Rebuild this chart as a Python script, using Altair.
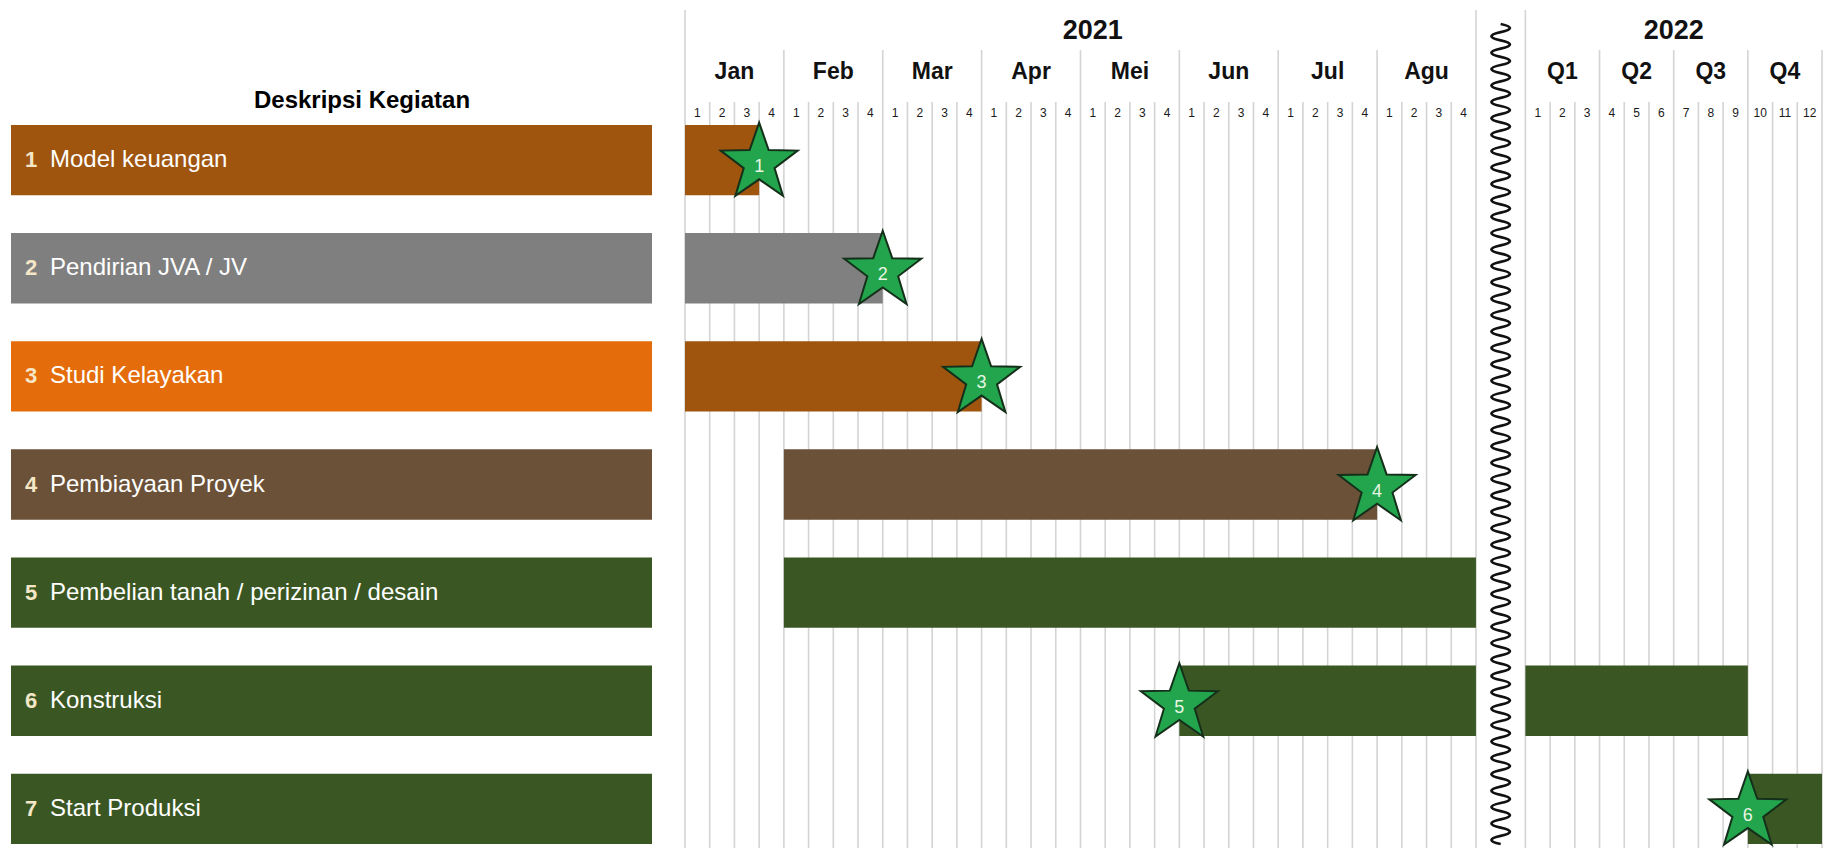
import math
import altair as alt
import pandas as pd

# ---------------- data ----------------
tasks = ["Model keuangan", "Pendirian JVA / JV", "Studi Kelayakan", "Pembiayaan Proyek",
         "Pembelian tanah / perizinan / desain", "Konstruksi", "Start Produksi"]
task_nums = ["1", "2", "3", "4", "5", "6", "7"]

# timeline units: 2021 = weeks 0..32 ; 2022 = months starting at unit 34
bar_task = [1, 2, 3, 4, 5, 6, 6, 7]
bar_start = [0, 0, 0, 4, 4, 20, 34, 43]
bar_end = [3, 8, 12, 28, 32, 32, 43, 46]

milestone_task = [1, 2, 3, 4, 6, 7]
milestone_x = [3, 8, 12, 28, 20, 43]
milestone_label = ["1", "2", "3", "4", "5", "6"]

years = ["2021", "2022"]
months_2021 = ["Jan", "Feb", "Mar", "Apr", "Mei", "Jun", "Jul", "Agu"]
weeks = ["1", "2", "3", "4"]
quarters_2022 = ["Q1", "Q2", "Q3", "Q4"]
months_2022 = ["1", "2", "3", "4", "5", "6", "7", "8", "9", "10", "11", "12"]

# ---------------- styles / layout ----------------
label_colors = ["#A0550F", "#7F7F7F", "#E46C0A", "#6A5137", "#3A5723", "#3A5723", "#3A5723"]
bar_colors = ["#A0550F", "#808080", "#A0550F", "#6A5137", "#3A5723", "#3A5723", "#3A5723"]
START_2022 = 34      # first unit of 2022 section
BREAK_X = 33         # position of the wavy break line
X_END = 46
SANS = "Liberation Sans, Arial, Helvetica, sans-serif"

xs = alt.Scale(domain=[0, X_END], range=[685, 1822])
ys = alt.Scale(domain=tasks, range=[125, 844], paddingInner=0.35, paddingOuter=0)

# star symbol path (outer radius 1)
pts = []
for k in range(10):
    ang = math.radians(-90 + 36 * k)
    r = 1.0 if k % 2 == 0 else 0.40
    pts.append(f"{r * math.cos(ang):.4f},{r * math.sin(ang):.4f}")
STAR = "M" + " L".join(pts) + " Z"

# wavy break line path (vertical, -1..1)
n_half = 100
amp = 0.0225
seg = 2.0 / n_half
wave = ["M0,-1"]
for i in range(n_half):
    y0 = -1 + i * seg
    cx = 2 * amp if i % 2 == 0 else -2 * amp
    wave.append(f"Q{cx:.4f},{y0 + seg / 2:.5f} 0,{y0 + seg:.5f}")
WAVE = " ".join(wave)

# ---------------- tables ----------------
label_df = pd.DataFrame({"task": tasks, "num": task_nums, "color": label_colors})
bars_df = pd.DataFrame({
    "task": [tasks[t - 1] for t in bar_task],
    "start": bar_start, "end": bar_end,
    "color": [bar_colors[t - 1] for t in bar_task],
})
ms_df = pd.DataFrame({
    "task": [tasks[t - 1] for t in milestone_task],
    "x": milestone_x, "label": milestone_label,
})

week_rows = []
for m in range(len(months_2021)):
    for w, lab in enumerate(weeks):
        week_rows.append({"x": 4 * m + w + 0.5, "label": lab})
for i, lab in enumerate(months_2022):
    week_rows.append({"x": START_2022 + i + 0.5, "label": lab})
week_df = pd.DataFrame(week_rows)

month_rows = []
for m, lab in enumerate(months_2021):
    month_rows.append({"x": 4 * m + 2, "label": lab})
for q, lab in enumerate(quarters_2022):
    month_rows.append({"x": START_2022 + 3 * q + 1.5, "label": lab})
month_df = pd.DataFrame(month_rows)

year_df = pd.DataFrame({"x": [len(months_2021) * 2 + 0.5, START_2022 + 6], "label": years})

grid_rows = []
n_w = 4 * len(months_2021)
for x in range(0, n_w + 1):
    lvl = "year" if x in (0, n_w) else ("month" if x % 4 == 0 else "week")
    grid_rows.append({"x": x, "level": lvl})
for i in range(0, len(months_2022) + 1):
    lvl = "year" if i == 0 else ("month" if i % 3 == 0 else "week")
    grid_rows.append({"x": START_2022 + i, "level": lvl})
grid_df = pd.DataFrame(grid_rows)

# ---------------- layers ----------------
GRID = "#D4D4D4"
grid_base = alt.Chart(grid_df)
grid_layers = []
for lvl, top in (("week", 102), ("month", 50), ("year", 10)):
    grid_layers.append(
        grid_base.transform_filter(alt.datum.level == lvl)
        .mark_rule(color=GRID, strokeWidth=1.6)
        .encode(x=alt.X("x:Q", scale=xs, axis=None), y=alt.value(top), y2=alt.value(848))
    )

label_bars = alt.Chart(label_df).mark_rect().encode(
    x=alt.value(11), x2=alt.value(652),
    y=alt.Y("task:N", scale=ys, axis=None),
    color=alt.Color("color:N", scale=None),
)
label_nums = alt.Chart(label_df).mark_text(
    align="left", baseline="middle", fontSize=22, fontWeight="bold",
    font=SANS, color="#F4E6C6"
).encode(x=alt.value(25), y=alt.Y("task:N", scale=ys, axis=None), text="num:N")
label_names = alt.Chart(label_df).mark_text(
    align="left", baseline="middle", fontSize=24, font=SANS, color="white"
).encode(x=alt.value(50), y=alt.Y("task:N", scale=ys, axis=None), text="task:N")

gantt = alt.Chart(bars_df).mark_rect().encode(
    x=alt.X("start:Q", scale=xs, axis=None), x2="end:Q",
    y=alt.Y("task:N", scale=ys, axis=None),
    color=alt.Color("color:N", scale=None),
)

stars = alt.Chart(ms_df).mark_point(
    shape=STAR, filled=True, fill="#22A54C", stroke="#15301A", strokeWidth=2,
    opacity=1, size=6560, yOffset=3
).encode(x=alt.X("x:Q", scale=xs, axis=None), y=alt.Y("task:N", scale=ys, axis=None))
star_text = alt.Chart(ms_df).mark_text(
    fontSize=18, font=SANS, color="#E8F6E2", baseline="middle", dy=7
).encode(x=alt.X("x:Q", scale=xs, axis=None), y=alt.Y("task:N", scale=ys, axis=None), text="label:N")

wave_layer = alt.Chart(pd.DataFrame({"x": [BREAK_X]})).mark_point(
    shape=WAVE, filled=False, stroke="#111111", strokeWidth=2.8, opacity=1,
    size=(2 * 410) ** 2
).encode(x=alt.X("x:Q", scale=xs, axis=None), y=alt.value(434))

week_text = alt.Chart(week_df).mark_text(
    fontSize=12, font=SANS, color="#1a1a1a", baseline="middle"
).encode(x=alt.X("x:Q", scale=xs, axis=None), y=alt.value(113), text="label:N")

month_text = alt.Chart(month_df).mark_text(
    fontSize=23, font=SANS, fontWeight="bold", color="#111111", baseline="middle"
).encode(x=alt.X("x:Q", scale=xs, axis=None), y=alt.value(72), text="label:N")

year_text = alt.Chart(year_df).mark_text(
    fontSize=27, font=SANS, fontWeight="bold", color="#111111", baseline="middle"
).encode(x=alt.X("x:Q", scale=xs, axis=None), y=alt.value(31), text="label:N")

header = alt.Chart(pd.DataFrame({"t": ["Deskripsi Kegiatan"]})).mark_text(
    fontSize=24, font=SANS, fontWeight="bold", color="black", baseline="middle"
).encode(x=alt.value(362), y=alt.value(101), text="t:N")

chart = alt.layer(
    *grid_layers, label_bars, label_nums, label_names, gantt, stars, star_text,
    wave_layer, week_text, month_text, year_text, header
).properties(
    width=1827, height=848, autosize=alt.AutoSizeParams(type="none"), padding=0
).configure_view(stroke=None)

chart.save("out.html", embed_options={"renderer": "svg", "actions": False})
